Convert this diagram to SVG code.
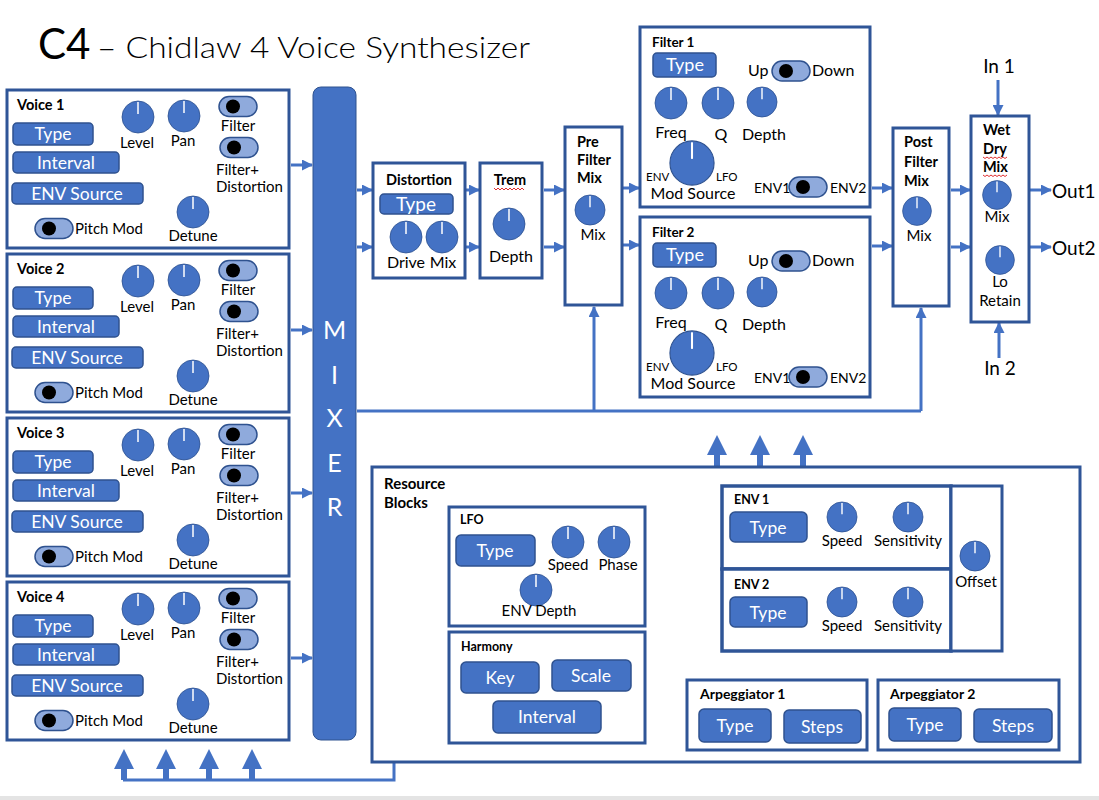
<svg xmlns="http://www.w3.org/2000/svg" xmlns:xlink="http://www.w3.org/1999/xlink" width="1099" height="800" viewBox="0 0 1099 800">
<style>
text{font-family:Lato,"Open Sans","Liberation Sans",sans-serif;fill:#000}
.box{fill:#fff;stroke:#2F5597;stroke-width:3}
.btn{fill:#4472C4;stroke:#2F528F;stroke-width:1.5}
.bt{fill:#fff;text-anchor:middle;font-size:17.5px}
.lb{font-size:15px}
.c{text-anchor:middle}
.hd{font-weight:bold;font-size:14.5px}
.sh{font-weight:bold;font-size:12.5px}
.sm{font-size:11.5px}
.io{font-size:19px}
.wire{stroke:#4472C4;stroke-width:3;fill:none}
.blk{fill:#4472C4}
.sq{stroke:#E03030;stroke-width:1;fill:none}
.mx{fill:#fff;font-size:25px;text-anchor:middle}
</style>
<defs>
<marker id="ah" markerWidth="11" markerHeight="11" refX="10" refY="5.5" orient="auto" markerUnits="userSpaceOnUse">
<path d="M0,0 L11,5.5 L0,11 z" fill="#4472C4"/>
</marker>
<g id="knob"><circle r="16" fill="#4472C4" stroke="#2F528F" stroke-width="0.8"/><line x1="0" y1="-15" x2="0" y2="-3" stroke="#fff" stroke-width="1.5"/></g>
<g id="tog"><rect x="-19" y="-10" width="38" height="20" rx="10" fill="#8FAADC" stroke="#2F528F" stroke-width="1.5"/><circle cx="-5" cy="0" r="7" fill="#000"/></g>
<g id="voice">
<rect class="box" x="0" y="0" width="282" height="158"/>
<rect class="btn" x="6" y="33" width="80" height="22" rx="4"/><text class="bt" x="46" y="50">Type</text>
<rect class="btn" x="6" y="62" width="106" height="21" rx="4"/><text class="bt" x="59" y="79">Interval</text>
<rect class="btn" x="5" y="93" width="131" height="21" rx="4"/><text class="bt" x="70" y="110">ENV Source</text>
<use xlink:href="#tog" transform="translate(47 138.5)"/>
<text class="lb" x="68" y="144">Pitch Mod</text>
<use xlink:href="#knob" transform="translate(131 27)"/><text class="lb c" x="130" y="58">Level</text>
<use xlink:href="#knob" transform="translate(177 26)"/><text class="lb c" x="176" y="56">Pan</text>
<use xlink:href="#tog" transform="translate(231 16.5)"/><text class="lb c" x="231" y="41">Filter</text>
<use xlink:href="#tog" transform="translate(232 57.5)"/><text class="lb" x="209" y="85">Filter+</text><text class="lb" x="209" y="102">Distortion</text>
<use xlink:href="#knob" transform="translate(186 122)"/><text class="lb c" x="186" y="151">Detune</text>
</g>
<g id="filter">
<rect class="box" x="640" y="27" width="230" height="180"/>
<rect class="btn" x="653" y="53" width="63" height="24" rx="4"/><text class="bt" x="685" y="71" style="font-size:18px">Type</text>
<text class="lb" x="748" y="76" style="font-size:16px">Up</text>
<use xlink:href="#tog" transform="translate(791 71)"/>
<text class="lb" x="812" y="76" style="font-size:16px">Down</text>
<use xlink:href="#knob" transform="translate(671 103)"/>
<use xlink:href="#knob" transform="translate(718 103)"/>
<use xlink:href="#knob" transform="translate(762 102) scale(0.94)"/>
<text class="lb c" x="671" y="138" style="font-size:16px">Freq</text>
<text class="lb c" x="721" y="140" style="font-size:16px">Q</text>
<text class="lb c" x="764" y="140" style="font-size:16px">Depth</text>
<use xlink:href="#knob" transform="translate(692 163) scale(1.38)"/>
<text class="sm" x="646" y="181">ENV</text>
<text class="sm" x="716" y="181">LFO</text>
<text class="lb c" x="693" y="199" style="font-size:16px">Mod Source</text>
<use xlink:href="#tog" transform="translate(808 187)"/>
<text class="lb" x="754" y="193" style="font-size:14px">ENV1</text>
<text class="lb" x="830" y="193" style="font-size:14px">ENV2</text>
</g>
</defs>

<rect x="0" y="0" width="1099" height="800" fill="#fff"/>
<rect x="0" y="796" width="1099" height="4" fill="#E4E4E4"/>

<g id="title">
<text x="38" y="59" style="font-size:42px">C4</text>
<text x="97" y="58" style="font-size:30px;font-weight:300" textLength="433" lengthAdjust="spacingAndGlyphs">– Chidlaw 4 Voice Synthesizer</text>
</g>

<g id="connectors">
<line class="wire" x1="291" y1="165" x2="312" y2="165" marker-end="url(#ah)"/>
<line class="wire" x1="291" y1="330" x2="312" y2="330" marker-end="url(#ah)"/>
<line class="wire" x1="291" y1="493" x2="312" y2="493" marker-end="url(#ah)"/>
<line class="wire" x1="291" y1="658" x2="312" y2="658" marker-end="url(#ah)"/>
<line class="wire" x1="357" y1="190" x2="372" y2="190" marker-end="url(#ah)"/>
<line class="wire" x1="357" y1="247" x2="372" y2="247" marker-end="url(#ah)"/>
<line class="wire" x1="466" y1="190" x2="479" y2="190" marker-end="url(#ah)"/>
<line class="wire" x1="466" y1="247" x2="479" y2="247" marker-end="url(#ah)"/>
<line class="wire" x1="544" y1="190" x2="564" y2="190" marker-end="url(#ah)"/>
<line class="wire" x1="544" y1="247" x2="564" y2="247" marker-end="url(#ah)"/>
<line class="wire" x1="623" y1="188" x2="639" y2="188" marker-end="url(#ah)"/>
<line class="wire" x1="623" y1="245" x2="639" y2="245" marker-end="url(#ah)"/>
<line class="wire" x1="872" y1="188" x2="892" y2="188" marker-end="url(#ah)"/>
<line class="wire" x1="872" y1="246" x2="892" y2="246" marker-end="url(#ah)"/>
<line class="wire" x1="951" y1="190" x2="970" y2="190" marker-end="url(#ah)"/>
<line class="wire" x1="951" y1="247" x2="970" y2="247" marker-end="url(#ah)"/>
<line class="wire" x1="1030" y1="190" x2="1051" y2="190" marker-end="url(#ah)"/>
<line class="wire" x1="1030" y1="247" x2="1051" y2="247" marker-end="url(#ah)"/>
<line class="wire" x1="998" y1="80" x2="998" y2="115" marker-end="url(#ah)"/>
<line class="wire" x1="999" y1="358" x2="999" y2="323" marker-end="url(#ah)"/>
<path class="wire" d="M357,411 H921"/>
<line class="wire" x1="594" y1="411" x2="594" y2="307" marker-end="url(#ah)"/>
<line class="wire" x1="921" y1="411" x2="921" y2="308" marker-end="url(#ah)"/>
<path class="blk" d="M714,468 V455 H707 L717,435 L727,455 H720 V468 z"/>
<path class="blk" d="M757,468 V455 H750 L760,435 L770,455 H763 V468 z"/>
<path class="blk" d="M800,468 V455 H793 L803,435 L813,455 H806 V468 z"/>
<path class="wire" d="M394,762 V780 H123"/>
<path class="blk" d="M121,780 V769 H114 L124,749 L134,769 H127 V780 z"/>
<path class="blk" d="M163,780 V769 H156 L166,749 L176,769 H169 V780 z"/>
<path class="blk" d="M206,780 V769 H199 L209,749 L219,769 H212 V780 z"/>
<path class="blk" d="M249,780 V769 H242 L252,749 L262,769 H255 V780 z"/>
</g>

<g id="voice1"><use xlink:href="#voice" transform="translate(7 90)"/><text class="hd" x="17" y="110">Voice 1</text></g>
<g id="voice2"><use xlink:href="#voice" transform="translate(7 254)"/><text class="hd" x="17" y="274">Voice 2</text></g>
<g id="voice3"><use xlink:href="#voice" transform="translate(7 418)"/><text class="hd" x="17" y="438">Voice 3</text></g>
<g id="voice4"><use xlink:href="#voice" transform="translate(7 582)"/><text class="hd" x="17" y="602">Voice 4</text></g>

<g id="mixer">
<rect x="313" y="87" width="43" height="653" rx="8" fill="#4472C4" stroke="#2F528F" stroke-width="1"/>
<text class="mx" x="334.5" y="339">M</text>
<text class="mx" x="334.5" y="384">I</text>
<text class="mx" x="334.5" y="427">X</text>
<text class="mx" x="334.5" y="472">E</text>
<text class="mx" x="334.5" y="516">R</text>
</g>

<g id="distortion">
<rect class="box" x="373" y="163" width="92" height="115"/>
<text class="hd c" x="419" y="185">Distortion</text>
<rect class="btn" x="380" y="194" width="73" height="20" rx="4"/><text class="bt" x="416" y="211" style="font-size:19px">Type</text>
<use xlink:href="#knob" transform="translate(406 237)"/>
<use xlink:href="#knob" transform="translate(442 237)"/>
<text class="lb c" x="406" y="268" style="font-size:16px">Drive</text>
<text class="lb c" x="443" y="268" style="font-size:16px">Mix</text>
</g>

<g id="trem">
<rect class="box" x="480" y="163" width="62" height="115"/>
<text class="hd c" x="510" y="185">Trem</text>
<path class="sq" d="M494,188 l2,2 l2,-2 l2,2 l2,-2 l2,2 l2,-2 l2,2 l2,-2 l2,2 l2,-2 l2,2 l2,-2 l2,2 l2,-2 l2,2"/>
<use xlink:href="#knob" transform="translate(509 224)"/>
<text class="lb c" x="511" y="262" style="font-size:16px">Depth</text>
</g>

<g id="prefiltermix">
<rect class="box" x="565" y="127" width="57" height="178"/>
<text class="hd" x="577" y="147">Pre</text>
<text class="hd" x="577" y="165">Filter</text>
<text class="hd" x="577" y="183">Mix</text>
<use xlink:href="#knob" transform="translate(590 210) scale(0.94)"/>
<text class="lb c" x="593" y="240">Mix</text>
</g>

<g id="filter1"><use xlink:href="#filter"/><text class="sh" x="652" y="47" style="font-size:13.5px">Filter 1</text></g>
<g id="filter2"><use xlink:href="#filter" transform="translate(0 190)"/><text class="sh" x="652" y="237" style="font-size:13.5px">Filter 2</text></g>

<g id="postfiltermix">
<rect class="box" x="893" y="128" width="56" height="178"/>
<text class="hd" x="904" y="147">Post</text>
<text class="hd" x="904" y="167">Filter</text>
<text class="hd" x="904" y="186">Mix</text>
<use xlink:href="#knob" transform="translate(917 211) scale(0.9)"/>
<text class="lb c" x="919" y="241">Mix</text>
</g>

<g id="wetdrymix">
<rect class="box" x="971" y="116" width="58" height="206"/>
<text class="hd" x="983" y="135">Wet</text>
<text class="hd" x="983" y="154">Dry</text>
<path class="sq" d="M983,157 l2,1.5 l2,-1.5 l2,1.5 l2,-1.5 l2,1.5 l2,-1.5 l2,1.5 l2,-1.5 l2,1.5 l2,-1.5 l2,1.5 l2,-1.5"/>
<text class="hd" x="983" y="172">Mix</text>
<path class="sq" d="M983,175 l2,1.5 l2,-1.5 l2,1.5 l2,-1.5 l2,1.5 l2,-1.5 l2,1.5 l2,-1.5 l2,1.5 l2,-1.5 l2,1.5 l2,-1.5"/>
<use xlink:href="#knob" transform="translate(997 195) scale(0.9)"/>
<text class="lb c" x="997" y="222">Mix</text>
<use xlink:href="#knob" transform="translate(1000 260) scale(0.9)"/>
<text class="lb c" x="1000" y="287">Lo</text>
<text class="lb c" x="1000" y="306">Retain</text>
</g>

<g id="io">
<text class="io c" x="999" y="73">In 1</text>
<text class="io c" x="1000" y="375">In 2</text>
<text class="io" x="1052" y="198">Out1</text>
<text class="io" x="1052" y="255">Out2</text>
</g>

<g id="resourceblocks">
<rect class="box" x="372" y="467" width="708" height="295"/>
<text class="hd" x="384" y="489" style="font-size:15px">Resource</text>
<text class="hd" x="384" y="508" style="font-size:15px">Blocks</text>
</g>

<g id="lfo">
<rect class="box" x="449" y="507" width="196" height="119"/>
<text class="sh" x="460" y="524">LFO</text>
<rect class="btn" x="456" y="535" width="79" height="31" rx="5"/><text class="bt" x="495" y="557">Type</text>
<use xlink:href="#knob" transform="translate(568 542)"/><text class="lb c" x="568" y="570">Speed</text>
<use xlink:href="#knob" transform="translate(614 542)"/><text class="lb c" x="618" y="570">Phase</text>
<use xlink:href="#knob" transform="translate(536 590)"/><text class="lb c" x="539" y="616">ENV Depth</text>
</g>

<g id="harmony">
<rect class="box" x="449" y="632" width="196" height="111"/>
<text class="sh" x="461" y="651">Harmony</text>
<rect class="btn" x="461" y="662" width="78" height="31" rx="5"/><text class="bt" x="500" y="684">Key</text>
<rect class="btn" x="552" y="660" width="79" height="31" rx="5"/><text class="bt" x="591" y="682">Scale</text>
<rect class="btn" x="493" y="701" width="108" height="32" rx="5"/><text class="bt" x="547" y="723">Interval</text>
</g>

<g id="env1">
<rect class="box" x="722" y="486" width="229" height="83" style="stroke-width:3.5"/>
<text class="sh" x="734" y="504">ENV 1</text>
<rect class="btn" x="730" y="512" width="77" height="30" rx="5"/><text class="bt" x="768" y="534">Type</text>
<use xlink:href="#knob" transform="translate(842 517) scale(0.94)"/><text class="lb c" x="842" y="546">Speed</text>
<use xlink:href="#knob" transform="translate(908 517) scale(0.94)"/><text class="lb c" x="908" y="546">Sensitivity</text>
</g>

<g id="env2">
<rect class="box" x="722" y="569" width="229" height="82" style="stroke-width:3.5"/>
<text class="sh" x="734" y="589">ENV 2</text>
<rect class="btn" x="730" y="597" width="77" height="30" rx="5"/><text class="bt" x="768" y="619">Type</text>
<use xlink:href="#knob" transform="translate(842 602) scale(0.94)"/><text class="lb c" x="842" y="631">Speed</text>
<use xlink:href="#knob" transform="translate(908 602) scale(0.94)"/><text class="lb c" x="908" y="631">Sensitivity</text>
</g>

<g id="offset">
<rect class="box" x="951" y="486" width="51" height="165"/>
<use xlink:href="#knob" transform="translate(975 556) scale(0.94)"/>
<text class="lb c" x="976" y="587">Offset</text>
</g>

<g id="arp1">
<rect class="box" x="687" y="680" width="180" height="70"/>
<text class="sh" x="700" y="699" style="font-size:14px">Arpeggiator 1</text>
<rect class="btn" x="699" y="709" width="72" height="33" rx="5"/><text class="bt" x="735" y="732">Type</text>
<rect class="btn" x="784" y="710" width="77" height="33" rx="5"/><text class="bt" x="822" y="733">Steps</text>
</g>

<g id="arp2">
<rect class="box" x="878" y="680" width="181" height="70"/>
<text class="sh" x="890" y="699" style="font-size:14px">Arpeggiator 2</text>
<rect class="btn" x="889" y="708" width="72" height="33" rx="5"/><text class="bt" x="925" y="731">Type</text>
<rect class="btn" x="974" y="709" width="78" height="33" rx="5"/><text class="bt" x="1013" y="732">Steps</text>
</g>
</svg>
